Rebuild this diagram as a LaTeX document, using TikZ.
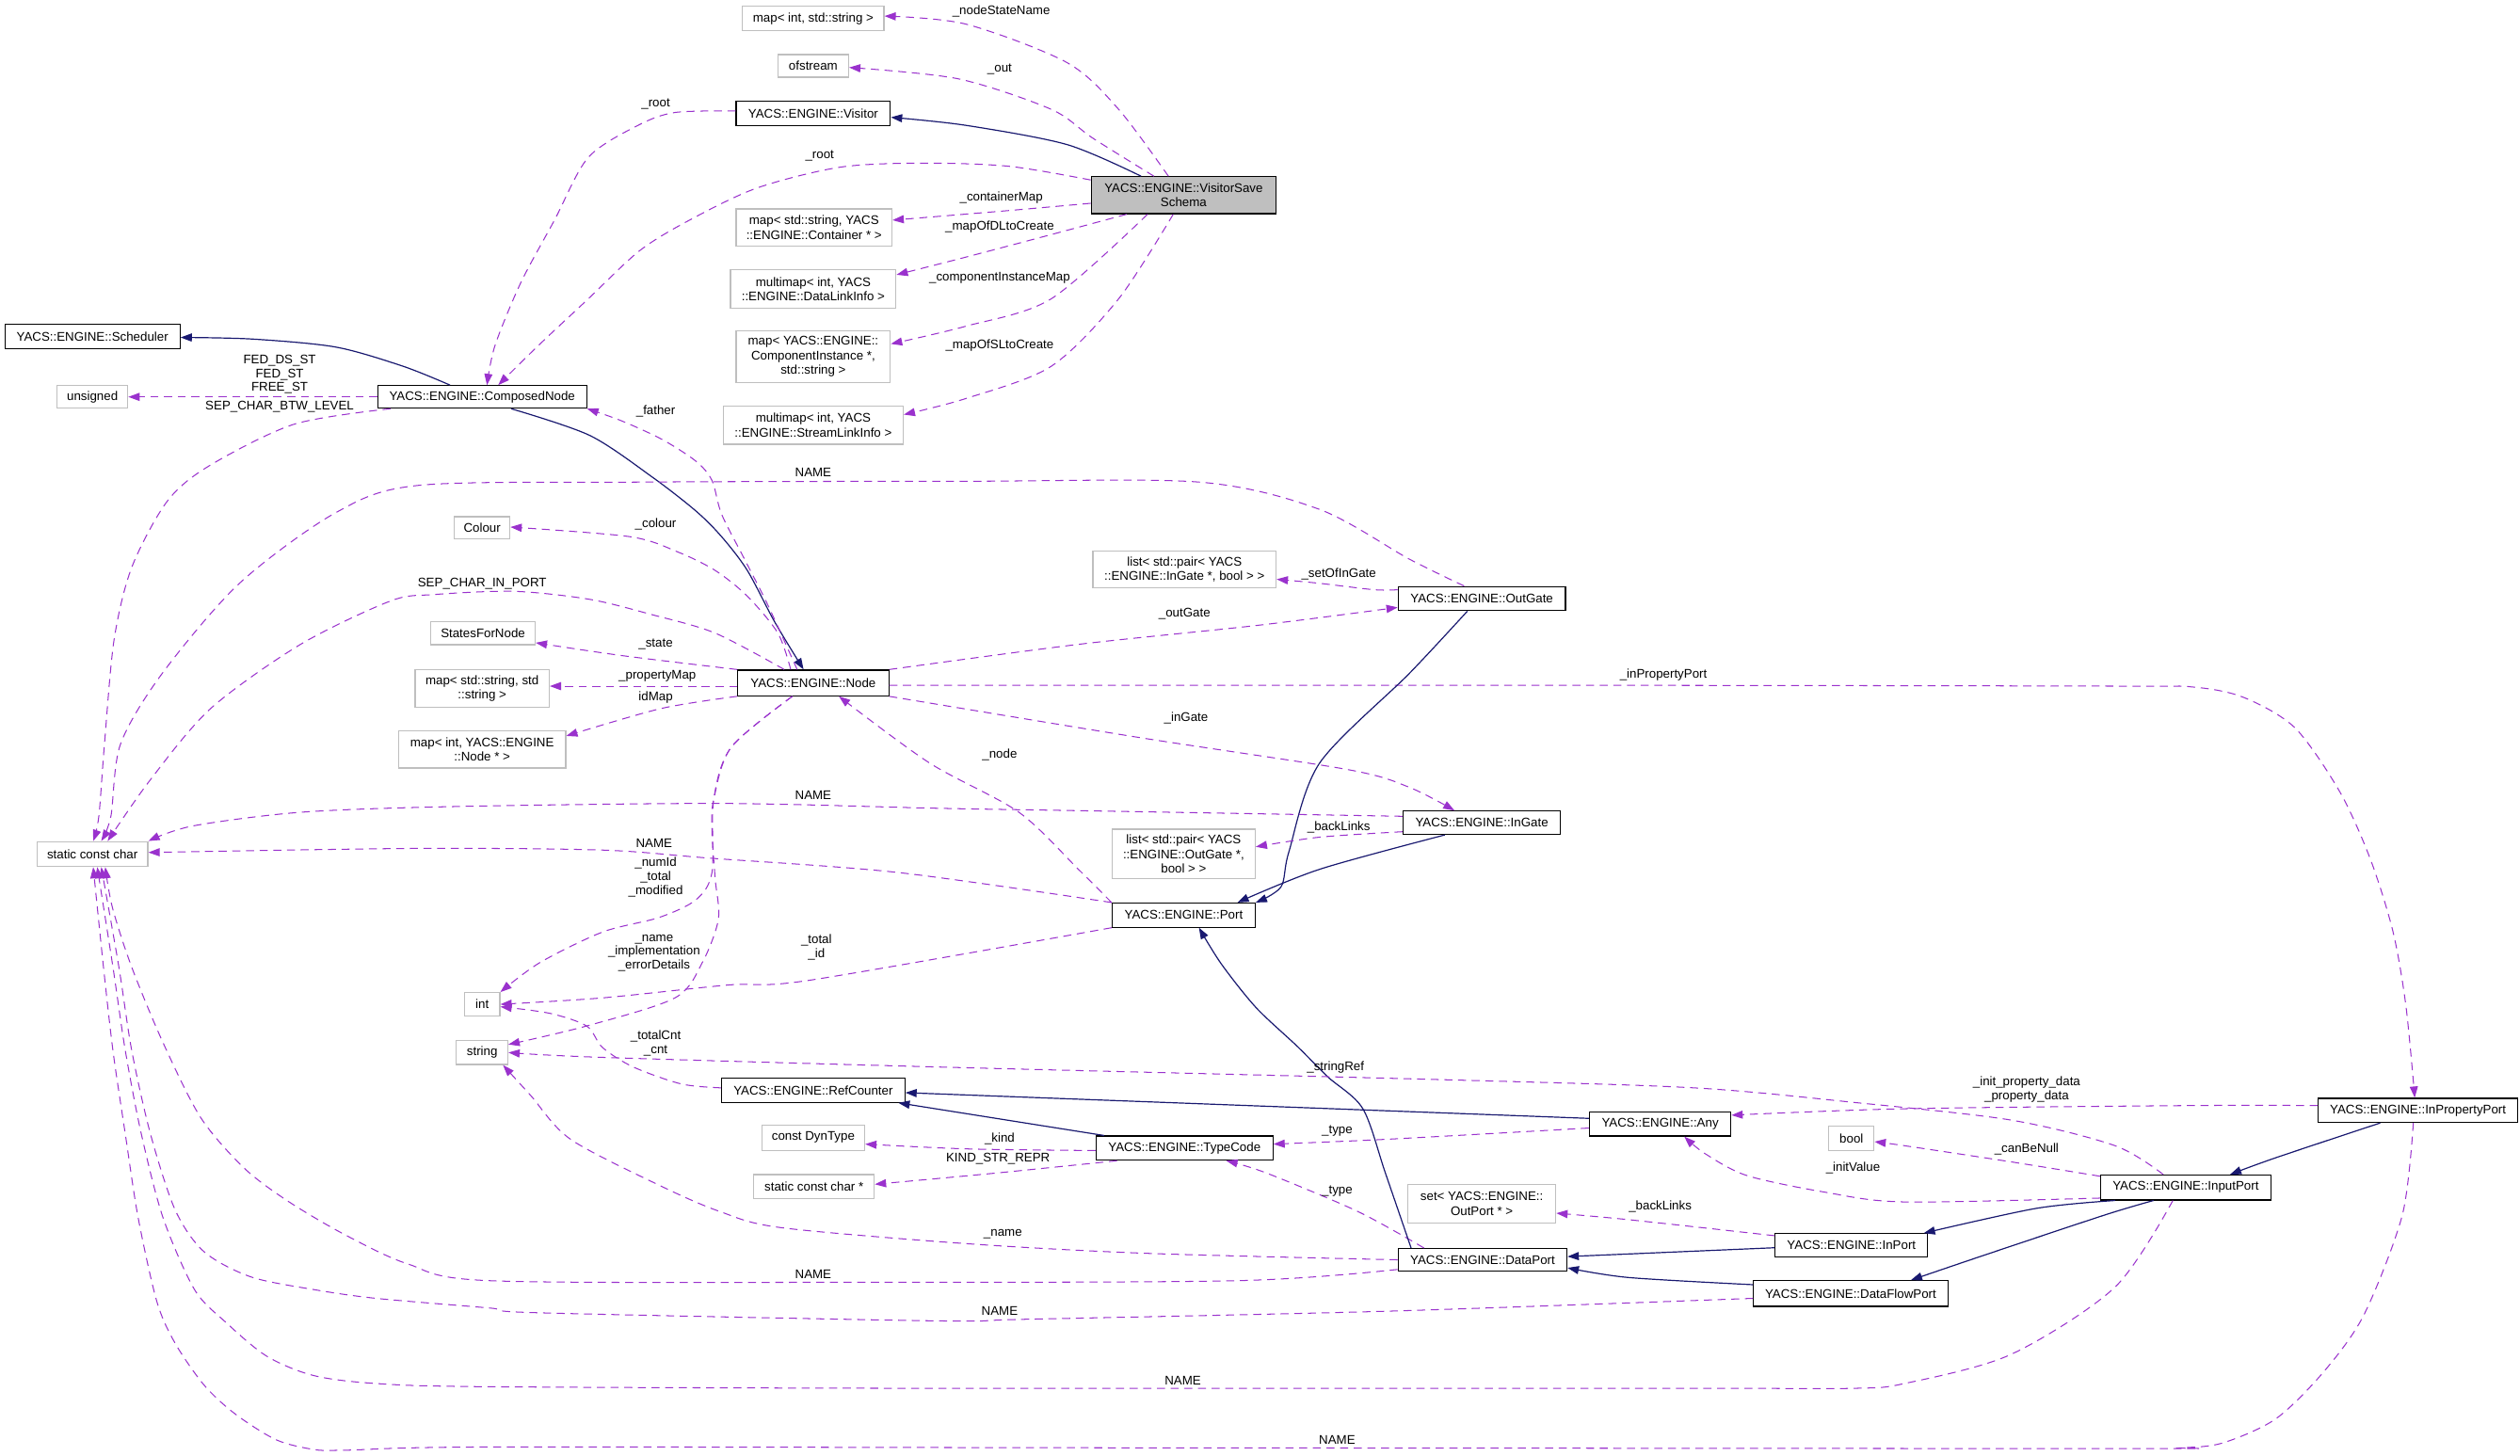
\documentclass[tikz,border=0pt]{standalone}
\usepackage{fontspec}
\setmainfont{Liberation Sans}
\usetikzlibrary{arrows.meta}
\definecolor{purp}{RGB}{154,50,205}
\definecolor{navy}{RGB}{25,25,112}
\definecolor{bgray}{RGB}{191,191,191}
\begin{document}
\begin{tikzpicture}[x=1pt,y=-1pt, font=\fontsize{7.8}{9}\selectfont,
 box/.style={draw, line width=0.7pt, inner sep=0pt, align=center, minimum height=15pt},
 ext/.style={box, draw=bgray},
 cls/.style={box, draw=black},
 use/.style={draw=purp, line width=0.6pt, dash pattern=on 5pt off 3.5pt, -{Triangle[length=7pt,width=5pt]}},
 inh/.style={draw=navy, line width=0.7pt, -{Triangle[length=7pt,width=5pt]}},
 lbl/.style={inner sep=0pt, align=center, font=\fontsize{7.8}{8.8}\selectfont}]
\fill[white] (0,0) rectangle (1568,906);
\useasboundingbox (0,0) rectangle (1568,906);

% nodes
\node[ext, minimum width=88pt] (m1) at (506,11.5) {map< int, std::string >};
\node[ext, minimum width=44pt, minimum height=14pt] (ofs) at (506,41) {ofstream};
\node[cls, minimum width=96pt] (vis) at (506,70.5) {YACS::ENGINE::Visitor};
\node[cls, fill=bgray, minimum width=115pt, minimum height=23pt] (vss) at (736.5,121.5) {YACS::ENGINE::VisitorSave\\Schema};
\node[ext, minimum width=97pt, minimum height=23pt] (cmap) at (506.5,141.5) {map< std::string, YACS\\::ENGINE::Container * >};
\node[ext, minimum width=103pt, minimum height=24pt] (dlink) at (506,180) {multimap< int, YACS\\::ENGINE::DataLinkInfo >};
\node[ext, minimum width=96pt, minimum height=32pt] (comp) at (506,222) {map< YACS::ENGINE::\\ComponentInstance *,\\std::string >};
\node[ext, minimum width=112pt, minimum height=24pt] (slink) at (506,264.5) {multimap< int, YACS\\::ENGINE::StreamLinkInfo >};
\node[cls, minimum width=109pt] (sched) at (57.5,209.5) {YACS::ENGINE::Scheduler};
\node[ext, minimum width=44pt, minimum height=14pt] (uns) at (57.5,247) {unsigned};
\node[cls, minimum width=130pt, minimum height=14pt] (cn) at (300,247) {YACS::ENGINE::ComposedNode};
\node[ext, minimum width=34.5pt, minimum height=14pt] (colour) at (300,328.5) {Colour};
\node[ext, minimum width=65pt, minimum height=14.5pt] (sfn) at (300.5,394) {StatesForNode};
\node[ext, minimum width=83.5pt, minimum height=23.5pt] (mss) at (300,428.5) {map< std::string, std\\::string >};
\node[ext, minimum width=104pt, minimum height=23pt] (mint) at (300,466.5) {map< int, YACS::ENGINE\\::Node * >};
\node[cls, minimum width=94pt, minimum height=16pt] (nd) at (506,425) {YACS::ENGINE::Node};
\node[ext, minimum width=69pt, minimum height=15.5pt] (scc0) at (57.5,531.5) {static const char};
\node[ext, minimum width=114pt, minimum height=23pt] (lig) at (737,354.5) {list< std::pair< YACS\\::ENGINE::InGate *, bool > >};
\node[cls, minimum width=104pt] (outgate) at (922,372.5) {YACS::ENGINE::OutGate};
\node[cls, minimum width=98pt, minimum height=14.5pt] (ingate) at (922,512) {YACS::ENGINE::InGate};
\node[ext, minimum width=89pt, minimum height=31pt] (log) at (736.5,531.5) {list< std::pair< YACS\\::ENGINE::OutGate *,\\bool > >};
\node[cls, minimum width=89pt] (port) at (736.5,569.5) {YACS::ENGINE::Port};
\node[ext, minimum width=22pt, minimum height=14.5pt] (tint) at (300,625) {int};
\node[ext, minimum width=32pt] (tstr) at (300,655) {string};
\node[cls, minimum width=114pt] (rc) at (506,678.5) {YACS::ENGINE::RefCounter};
\node[ext, minimum width=64pt, minimum height=16pt] (dyn) at (506,708) {const DynType};
\node[ext, minimum width=75pt] (scc) at (506.5,738.5) {static const char *};
\node[cls, minimum width=110pt] (tc) at (737,714.5) {YACS::ENGINE::TypeCode};
\node[cls, minimum width=88pt] (any) at (1033,699.5) {YACS::ENGINE::Any};
\node[cls, minimum width=124pt] (ipp) at (1504.5,691) {YACS::ENGINE::InPropertyPort};
\node[ext, minimum width=28pt] (tbool) at (1152,708.5) {bool};
\node[cls, minimum width=106pt, minimum height=15.5pt] (inp) at (1360,739) {YACS::ENGINE::InputPort};
\node[ext, minimum width=92pt, minimum height=24pt] (sop) at (922,749) {set< YACS::ENGINE::\\OutPort * >};
\node[cls, minimum width=95pt, minimum height=14.5pt] (inport) at (1152,775) {YACS::ENGINE::InPort};
\node[cls, minimum width=105pt, minimum height=14pt] (dp) at (922.5,784) {YACS::ENGINE::DataPort};
\node[cls, minimum width=121pt, minimum height=16pt] (dfp) at (1151.5,805) {YACS::ENGINE::DataFlowPort};

% VisitorSaveSchema edges
\draw[use] plot[smooth] coordinates {(vss.north -| 727,0) (696,68) (664,39) (601,15) (m1.east |- 0,10)};
\draw[use] plot[smooth] coordinates {(vss.north -| 718,0) (680,86) (654,68) (596,49) (ofs.east |- 0,42)};
\draw[inh] plot[smooth] coordinates {(vss.north -| 710,0) (664,90) (601,78) (vis.east |- 0,73)};
\draw[use] plot[smooth] coordinates {(vis.west |- 0,69) (420,70) (397,78) (366,98) (345,137) (324,176) (308,215) (cn.north -| 303,0)};
\draw[use] plot[smooth] coordinates {(vss.west |- 0,112) (628,103.5) (575,101.5) (523,104) (471,117) (429,137) (398,156) (366,186) (335,215) (cn.north -| 310,0)};
\draw[use] plot[smooth] coordinates {(vss.west |- 0,126.5) (628,131) (cmap.east |- 0,137)};
\draw[use] plot[smooth] coordinates {(vss.south -| 701,0) (654,146) (601,160) (dlink.east |- 0,171)};
\draw[use] plot[smooth] coordinates {(vss.south -| 714,0) (654,186) (601,203) (comp.east |- 0,214)};
\draw[use] plot[smooth] coordinates {(vss.south -| 730,0) (696,186) (654,228) (601,248) (slink.east |- 0,258)};

% ComposedNode edges
\draw[inh] plot[smooth] coordinates {(cn.north -| 280,0) (251,228) (209,216) (157,211) (sched.east |- 0,210)};
\draw[use] (cn.west) -- (uns.east);
\draw[use] plot[smooth] coordinates {(cn.south -| 243,0) (183,264) (130,290) (104,312) (82,353) (71,398) (65,463) (61.5,508) (scc0.north -| 58,0)};
\draw[inh] plot[smooth] coordinates {(cn.south -| 318,0) (367,271) (406,297) (433,318) (449,334) (465,355) (482,387) (nd.north -| 500,0)};
\draw[use] plot[smooth] coordinates {(nd.north -| 496,0) (478,377) (463,347.5) (449,320) (443,299) (433,287) (412,273.5) (387,262) (cn.south east)};

% Node edges
\draw[use] plot[smooth] coordinates {(nd.north -| 492,0) (484,394) (465,371) (445,355) (422,343.6) (392,334) (colour.east |- 0,328)};
\draw[use] plot[smooth] coordinates {(nd.north -| 488,0) (445,394) (406,382.6) (367,373) (320,368) (270,370) (243,374) (187,401) (131,441) (93,486) (scc0.north -| 67,0)};
\draw[use] plot[smooth] coordinates {(nd.north west) (387,408) (sfn.east |- 0,400)};
\draw[use] (nd.west |- 0,427) -- (mss.east |- 0,427);
\draw[use] plot[smooth] coordinates {(nd.south west) (411,441) (mint.east |- 0,458)};
\draw[use] plot[smooth] coordinates {(nd.north east) (671,401) (784,389) (outgate.west |- 0,378)};
\draw[use] plot[smooth] coordinates {(nd.east |- 0,426.5) (1000,426.5) (1318,427) (1365,427.6) (1396,434) (1428,453) (1456,493) (1475,535) (1489,580) (1497,626) (ipp.north -| 1502.5,0)};
\draw[use] plot[smooth] coordinates {(nd.south east) (709,459) (839,479) (877,490) (ingate.north -| 905,0)};
\draw[use] plot[smooth] coordinates {(nd.south -| 493,0) (455,465) (444,498) (443,543) (433,560) (410,571) (375,580) (336,599) (tint.north east)};
\draw[use] plot[smooth] coordinates {(nd.south -| 493,0) (455,465) (444,498) (443,517) (445,547) (447,572) (437,599) (420,621) (365,638.5) (tstr.east |- 0,650)};

% OutGate edges
\draw[use] plot[smooth] coordinates {(outgate.north -| 911,0) (877,348) (821,317) (746,300) (600,299.5) (400,300) (261,302) (209,319) (149,363) (101,419) (75,463) (69,508) (scc0.north -| 63,0)};
\draw[use] plot[smooth] coordinates {(outgate.west |- 0,367) (855,367) (821,363) (lig.east |- 0,360.5)};
\draw[inh] plot[smooth] coordinates {(outgate.south -| 913,0) (877,419) (821,475) (802,530) (797,552) (port.north east)};

% InGate edges
\draw[use] plot[smooth] coordinates {(ingate.west |- 0,508) (671,504.5) (583,503) (448,500) (280,502) (187,505.5) (120,514) (scc0.north east)};
\draw[use] plot[smooth] coordinates {(ingate.west |- 0,517.6) (821,521) (log.east |- 0,527)};
\draw[inh] plot[smooth] coordinates {(ingate.south -| 899,0) (821,541) (port.north -| 770,0)};

% Port edges
\draw[use] plot[smooth] coordinates {(port.north west) (671,541) (634,505.5) (578,474.6) (nd.south -| 522,0)};
\draw[use] plot[smooth] coordinates {(port.north west) (559,543) (441,534) (374,529) (258,528) (scc0.east |- 0,530.5)};
\draw[use] plot[smooth] coordinates {(port.south west) (504,610) (453,613) (375,621) (tint.east |- 0,625)};

% RefCounter / TypeCode / Any
\draw[use] plot[smooth] coordinates {(rc.west |- 0,677) (424,674.6) (394,664) (375,652) (365,638.5) (342,630.6) (tint.east |- 0,626.5)};
\draw[inh] (tc.north -| 687,0) -- (rc.south -| 559,0);
\draw[inh] (any.west |- 0,696) -- (rc.east |- 0,680);
\draw[use] plot[smooth] coordinates {(tc.west |- 0,716) (602,715) (dyn.east |- 0,712)};
\draw[use] plot[smooth] coordinates {(tc.south -| 695,0) (620,730) (scc.east |- 0,737)};
\draw[use] plot[smooth] coordinates {(any.west |- 0,702) (863,709) (tc.east |- 0,712)};
\draw[use] plot[smooth] coordinates {(dp.north -| 886,0) (845,754) (788,730) (tc.south -| 763,0)};
\draw[inh] plot[smooth] coordinates {(dp.north -| 878,0) (862,730) (848,690) (826,670) (807,651) (781.5,627) (760,600) (port.south -| 746,0)};

% Port hierarchy
\draw[inh] (inport.west |- 0,776.5) -- (dp.east |- 0,782);
\draw[inh] plot[smooth] coordinates {(dfp.west |- 0,799.5) (1013,795) (dp.east |- 0,789)};
\draw[use] plot[smooth] coordinates {(inport.west |- 0,769) (1013,759) (sop.east |- 0,755)};
\draw[inh] plot[smooth] coordinates {(inp.south -| 1316,0) (1267,752) (inport.north -| 1197,0)};
\draw[inh] plot[smooth] coordinates {(inp.south -| 1340,0) (1310,756) (1235,781) (dfp.north -| 1189,0)};
\draw[inh] plot[smooth] coordinates {(ipp.south -| 1481,0) (1416,720.5) (inp.north -| 1387.6,0)};
\draw[use] plot[smooth] coordinates {(ipp.west |- 0,688) (1365,688) (1185,690) (any.east |- 0,694)};
\draw[use] plot[smooth] coordinates {(inp.west |- 0,732) (1251,723) (1185,713) (tbool.east |- 0,710.5)};
\draw[use] plot[smooth] coordinates {(inp.west |- 0,745.6) (1185,748) (1136,742) (1087,731.6) (1061,718) (any.south -| 1048,0)};
\draw[use] plot[smooth] coordinates {(inp.north -| 1346,0) (1316,713) (1251,697) (1153,686) (1054,677) (901,672) (583,664) (374,658) (tstr.east |- 0,655)};
\draw[use] plot[smooth] coordinates {(dp.west |- 0,784) (714,780) (602,774) (486,764) (448,754) (411,738) (355,709) (330,681.5) (tstr.south -| 313,0)};

% NAME edges into static const char bottom
\draw[use] plot[smooth] coordinates {(dp.west |- 0,790) (770,797) (527,798) (304.6,797) (253.8,786.6) (214.8,768.5) (179.6,747.8) (152,727) (125,695.7) (101.5,649) (82,602) (70,565) (scc0.south -| 65.5,0)};
\draw[use] plot[smooth] coordinates {(dfp.west |- 0,808) (863,816) (639,821) (583,822) (336,817) (304.6,814) (234,808) (195,802.5) (156,794.6) (127,779) (109,753) (93.7,706) (82,654) (74,602) (scc0.south -| 63,0)};
\draw[use] plot[smooth] coordinates {(inp.south -| 1352,0) (1316,801) (1251,843) (1185,861) (1153,864) (1054,864) (583,864) (304.6,863) (234,861) (195,856) (166,844) (140.6,823) (121,802.5) (101.5,758) (88,706) (78,654) (70.3,602) (scc0.south -| 60.5,0)};
\draw[use] plot[smooth] coordinates {(ipp.south -| 1501.6,0) (1494.8,756) (1471,818) (1445.6,854) (1416,883) (1383,898) (1357,901) (1318,901.5) (700,901) (304.6,900.5) (214.8,902.5) (195,902) (171.8,896) (146.4,880) (127,862) (109,836) (97.6,810) (86,758) (78,706) (70.3,654) (64.4,602) (scc0.south -| 58,0)};

% labels
\node[lbl] (t1) at (623,7) {\_nodeStateName};
\node[lbl] (t2) at (622,43) {\_out};
\node[lbl] (t3) at (408,65) {\_root};
\node[lbl] (t4) at (510,97) {\_root};
\node[lbl] (t5) at (623,123) {\_containerMap};
\node[lbl] (t6) at (622,141) {\_mapOfDLtoCreate};
\node[lbl] (t7) at (622,173) {\_componentInstanceMap};
\node[lbl] (t8) at (622,215) {\_mapOfSLtoCreate};
\node[lbl, font=\fontsize{7.8}{8.5}\selectfont] (t9) at (174,233) {FED\_DS\_ST\\FED\_ST\\FREE\_ST};
\node[lbl] (t10) at (174,253.4) {SEP\_CHAR\_BTW\_LEVEL};
\node[lbl] (t11) at (408,256) {\_father};
\node[lbl] (t12) at (506,294) {NAME};
\node[lbl] (t13) at (408,326) {\_colour};
\node[lbl] (t14) at (300,363) {SEP\_CHAR\_IN\_PORT};
\node[lbl] (t15) at (833,357) {\_setOfInGate};
\node[lbl] (t16) at (737,382) {\_outGate};
\node[lbl] (t17) at (408,401) {\_state};
\node[lbl] (t18) at (409,421) {\_propertyMap};
\node[lbl] (t19) at (408,434) {idMap};
\node[lbl] (t20) at (1035,420) {\_inPropertyPort};
\node[lbl] (t21) at (738,447) {\_inGate};
\node[lbl] (t22) at (622,469.5) {\_node};
\node[lbl] (t23) at (506,495) {NAME};
\node[lbl] (t24) at (833,515) {\_backLinks};
\node[lbl] (t25) at (407,525) {NAME};
\node[lbl] (t26) at (408,546) {\_numId\\\_total\\\_modified};
\node[lbl, font=\fontsize{7.8}{8.5}\selectfont] (t27) at (407,593) {\_name\\\_implementation\\\_errorDetails};
\node[lbl] (t28) at (508,589.5) {\_total\\\_id};
\node[lbl] (t29) at (408,649) {\_totalCnt\\\_cnt};
\node[lbl] (t30) at (831,664) {\_stringRef};
\node[lbl] (t31) at (622,709) {\_kind};
\node[lbl] (t32) at (621,721) {KIND\_STR\_REPR};
\node[lbl] (t33) at (832,704) {\_type};
\node[lbl] (t34) at (832,741) {\_type};
\node[lbl] (t35) at (1261,678) {\_init\_property\_data\\\_property\_data};
\node[lbl] (t36) at (1261,715) {\_canBeNull};
\node[lbl] (t37) at (1153,727) {\_initValue};
\node[lbl] (t38) at (1033,751) {\_backLinks};
\node[lbl] (t39) at (624,768) {\_name};
\node[lbl] (t40) at (506,793) {NAME};
\node[lbl] (t41) at (622,816) {NAME};
\node[lbl] (t42) at (736,859) {NAME};
\node[lbl] (t43) at (832,896) {NAME};
\end{tikzpicture}
\end{document}
